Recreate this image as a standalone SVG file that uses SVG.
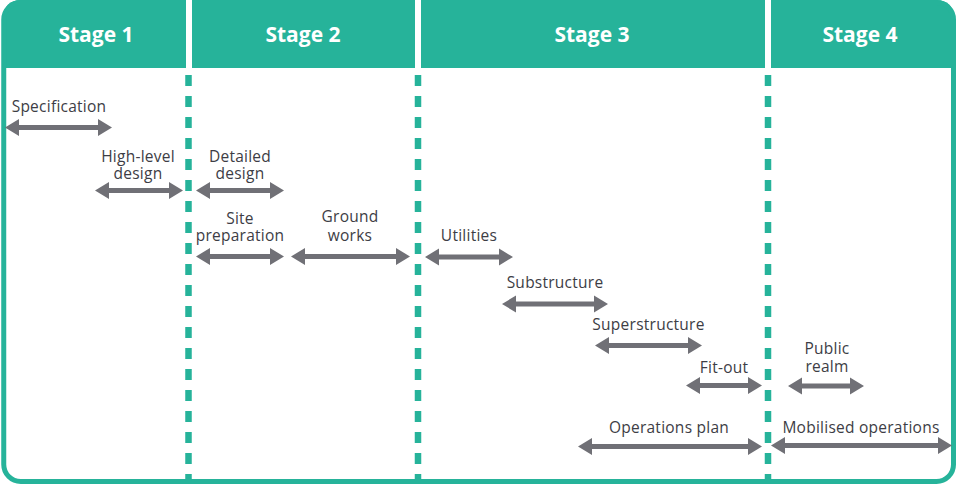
<svg xmlns="http://www.w3.org/2000/svg" width="957" height="485" viewBox="0 0 957 485">
<style>
.hdr{font-family:"Open Sans","Liberation Sans",sans-serif;font-weight:700;font-size:21px;fill:#ffffff;text-anchor:middle}
.lbl{font-family:"Open Sans","Liberation Sans",sans-serif;font-size:15.5px;letter-spacing:0.25px;fill:#3d3d45;text-anchor:middle}
.arr{fill:#707076}
.div{stroke:#26b39a;stroke-width:6.5;stroke-dasharray:11 10;fill:none}
</style>
<rect x="0" y="0" width="957" height="485" fill="#ffffff"/>
<g id="frame">
<path d="M3.75,68 V18 Q3.75,0 21,0 H936 Q953.5,0 953.5,18 V68 Z" fill="#26b39a"/>
<rect x="3.75" y="2.5" width="949.75" height="479" rx="17" fill="none" stroke="#26b39a" stroke-width="5"/>
<rect x="186" y="0" width="6" height="68" fill="#ffffff"/>
<rect x="415" y="0" width="6" height="68" fill="#ffffff"/>
<rect x="765" y="0" width="6" height="68" fill="#ffffff"/>
</g>
<g id="dividers">
<line class="div" x1="188.5" y1="75" x2="188.5" y2="481"/>
<line class="div" x1="418" y1="75" x2="418" y2="481"/>
<line class="div" x1="768" y1="75" x2="768" y2="481"/>
</g>
<g id="stage1"><text class="hdr" x="96" y="42">Stage 1</text></g>
<g id="stage2"><text class="hdr" x="303" y="42">Stage 2</text></g>
<g id="stage3"><text class="hdr" x="592" y="42">Stage 3</text></g>
<g id="stage4"><text class="hdr" x="860" y="42">Stage 4</text></g>
<g id="connectors">
<path class="arr" d="M5,127.5 l14,-8.5 v6 H98 v-6 l14,8.5 l-14,8.5 v-6 H19 v6 Z"/>
<path class="arr" d="M95,190.5 l14,-8.5 v6 H169 v-6 l14,8.5 l-14,8.5 v-6 H109 v6 Z"/>
<path class="arr" d="M196,190.5 l14,-8.5 v6 H270 v-6 l14,8.5 l-14,8.5 v-6 H210 v6 Z"/>
<path class="arr" d="M196,256.5 l14,-8.5 v6 H270 v-6 l14,8.5 l-14,8.5 v-6 H210 v6 Z"/>
<path class="arr" d="M291,256.5 l14,-8.5 v6 H396 v-6 l14,8.5 l-14,8.5 v-6 H305 v6 Z"/>
<path class="arr" d="M425,257 l14,-8.5 v6 H499 v-6 l14,8.5 l-14,8.5 v-6 H439 v6 Z"/>
<path class="arr" d="M502,304 l14,-8.5 v6 H594 v-6 l14,8.5 l-14,8.5 v-6 H516 v6 Z"/>
<path class="arr" d="M595,345.5 l14,-8.5 v6 H688 v-6 l14,8.5 l-14,8.5 v-6 H609 v6 Z"/>
<path class="arr" d="M686,385.5 l14,-8.5 v6 H748 v-6 l14,8.5 l-14,8.5 v-6 H700 v6 Z"/>
<path class="arr" d="M788,386 l14,-8.5 v6 H850 v-6 l14,8.5 l-14,8.5 v-6 H802 v6 Z"/>
<path class="arr" d="M578,446.5 l14,-8.5 v6 H748 v-6 l14,8.5 l-14,8.5 v-6 H592 v6 Z"/>
<path class="arr" d="M771,445.5 l14,-8.5 v6 H938 v-6 l14,8.5 l-14,8.5 v-6 H785 v6 Z"/>
</g>
<g id="specification"><text class="lbl" x="59" y="112">Specification</text></g>
<g id="high-level-design"><text class="lbl" x="138" y="162">High-level</text><text class="lbl" x="138" y="178.5">design</text></g>
<g id="detailed-design"><text class="lbl" x="240" y="162">Detailed</text><text class="lbl" x="240" y="178.5">design</text></g>
<g id="site-preparation"><text class="lbl" x="240" y="224">Site</text><text class="lbl" x="240" y="240.5">preparation</text></g>
<g id="ground-works"><text class="lbl" x="350" y="222">Ground</text><text class="lbl" x="350" y="241">works</text></g>
<g id="utilities"><text class="lbl" x="469" y="240.5">Utilities</text></g>
<g id="substructure"><text class="lbl" x="555" y="288">Substructure</text></g>
<g id="superstructure"><text class="lbl" x="648.5" y="330">Superstructure</text></g>
<g id="fit-out"><text class="lbl" x="724" y="372.5">Fit-out</text></g>
<g id="public-realm"><text class="lbl" x="827" y="354">Public</text><text class="lbl" x="827" y="372">realm</text></g>
<g id="operations-plan"><text class="lbl" x="669" y="433">Operations plan</text></g>
<g id="mobilised-operations"><text class="lbl" x="861" y="433">Mobilised operations</text></g>
</svg>
